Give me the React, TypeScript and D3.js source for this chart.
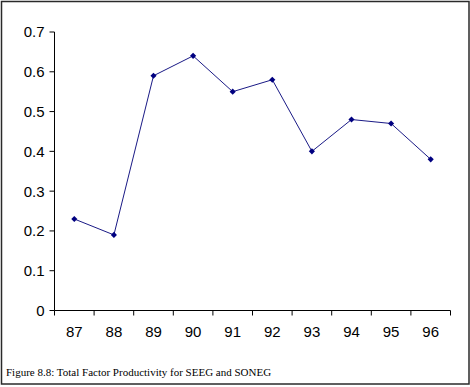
import React from 'react';
import * as d3 from 'd3';

const years = ['87', '88', '89', '90', '91', '92', '93', '94', '95', '96'];
const tfp = [0.23, 0.19, 0.59, 0.64, 0.55, 0.58, 0.4, 0.48, 0.47, 0.38];
const yTicks = [0, 0.1, 0.2, 0.3, 0.4, 0.5, 0.6, 0.7];
const caption = 'Figure 8.8: Total Factor Productivity for SEEG and SONEG';

export default function App() {
  const width = 470;
  const height = 387;
  const left = 54.5;
  const right = 450.5;
  const top = 32;
  const bottom = 310.5;

  // band scale for categories, ticks sit between them
  const x = d3.scaleBand<string>().domain(years).range([left, right]);
  const y = d3.scaleLinear().domain([0, 0.7]).range([bottom, top]);
  const cx = (d: string) => (x(d) ?? 0) + x.bandwidth() / 2;

  const line = d3.line<number>()
    .x((_, i) => cx(years[i]))
    .y(d => y(d));

  const diamond = d3.symbol().type(d3.symbolDiamond2).size(24)() ?? '';
  const boundaries = years.map(d => (x(d) ?? 0) + x.bandwidth());
  const font = 'Arial, "Liberation Sans", Helvetica, sans-serif';

  return (
    <svg width={width} height={height} style={{ position: 'absolute', left: 0, top: 0, background: '#fff' }}>
      <rect x={1.5} y={1.5} width={467.5} height={382.5} fill="#fff" stroke="#2a2a2a" strokeWidth={1.5} />

      {/* y axis */}
      <line x1={left} x2={left} y1={top} y2={bottom} stroke="#000" />
      {yTicks.map(t => (
        <g key={t}>
          <line x1={left - 5} x2={left} y1={y(t)} y2={y(t)} stroke="#000" />
          <text x={left - 10} y={y(t)} dy="0.36em" textAnchor="end" fontFamily={font} fontSize={15} fill="#000">
            {t === 0 ? '0' : t.toFixed(1)}
          </text>
        </g>
      ))}

      {/* x axis */}
      <line x1={left} x2={right} y1={bottom} y2={bottom} stroke="#000" />
      {[left, ...boundaries].map((b, i) => (
        <line key={i} x1={b} x2={b} y1={bottom} y2={bottom + 5} stroke="#000" />
      ))}
      {years.map(d => (
        <text key={d} x={cx(d)} y={337} textAnchor="middle" fontFamily={font} fontSize={15} fill="#000">
          {d}
        </text>
      ))}

      <path d={line(tfp) ?? ''} fill="none" stroke="#1a1a86" strokeWidth={1} />
      {tfp.map((v, i) => (
        <path key={i} d={diamond} transform={`translate(${cx(years[i])},${y(v)})`} fill="#000080" />
      ))}

      <text x={6} y={376} fontFamily='"Times New Roman", "Liberation Serif", serif' fontSize={11} fill="#000">
        {caption}
      </text>
    </svg>
  );
}
